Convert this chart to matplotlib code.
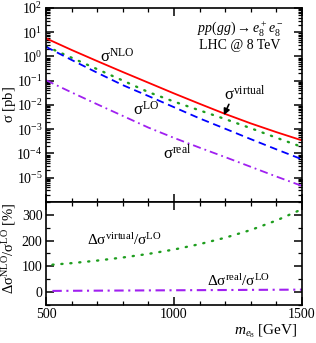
#!/usr/bin/env python3
"""Cross sections for pp(gg) -> e8+ e8- at LHC 8 TeV, with NLO corrections."""

import matplotlib

matplotlib.use("Agg")
import matplotlib.pyplot as plt
from matplotlib.ticker import LogLocator, MultipleLocator, NullFormatter, LogFormatterMathtext

# data (masses in GeV, cross sections in pb)
mass = [500, 600, 700, 800, 900, 1000, 1100, 1200, 1300, 1400, 1500]
sigma_nlo = [5.62, 1.86, 0.646, 0.229, 0.083, 0.030, 0.0112, 0.00427, 0.00174, 0.000759, 0.000347]
sigma_virtual = [2.63, 0.89, 0.30, 0.102, 0.034, 0.0138, 0.0060, 0.00263, 0.00110, 0.000447, 0.000186]
sigma_lo = [2.51, 0.72, 0.214, 0.066, 0.0234, 0.0081, 0.0028, 0.00105, 0.00039, 0.000148, 0.0000575]
sigma_real = [0.105, 0.033, 0.0107, 0.00355, 0.00117, 0.00044, 0.000174, 0.0000708, 0.0000282,
              0.0000112, 0.0000046]

mass_ratio = [525, 600, 700, 800, 900, 1000, 1100, 1200, 1300, 1400, 1500]
ratio_virtual = [106, 112, 122, 134, 148, 165, 186, 211, 241, 278, 322]
ratio_real = [4, 4.5, 5, 5.5, 6, 6.5, 7, 7.5, 8, 8.5, 9]

RED = "#ff0000"
GREEN = "#1f9e1f"
BLUE = "#0000ff"
PURPLE = "#a020f0"

plt.rcParams.update(
    {
        "font.family": "Liberation Serif",
        "font.size": 10,
        "mathtext.fontset": "custom",
        "mathtext.rm": "Liberation Serif",
        "mathtext.it": "Liberation Serif:italic",
        "mathtext.bf": "Liberation Serif:bold",
        "axes.linewidth": 1.2,
    }
)


def style_ticks(ax):
    ax.tick_params(which="both", direction="in", top=True, right=True, labelsize=10, pad=2.5)
    ax.tick_params(which="major", length=5.5, width=1.1)
    ax.tick_params(which="minor", length=3.0, width=0.9)


fig = plt.figure(figsize=(3.16, 3.43), dpi=100)
ax = fig.add_axes([0.1456, 0.4111, 0.8101, 0.5656])
axr = fig.add_axes([0.1456, 0.1114, 0.8101, 0.2997], sharex=ax)

# upper panel: cross sections
ax.plot(mass, sigma_nlo, color=RED, lw=1.3, ls="-")
ax.plot(mass, sigma_virtual, color=GREEN, lw=1.7, ls=(0, (0.5, 3.3)), dash_capstyle="round")
ax.plot(mass, sigma_lo, color=BLUE, lw=1.3, ls=(0, (4.2, 2.6)))
ax.plot(mass, sigma_real, color=PURPLE, lw=1.3, ls=(0, (4.5, 2.2, 1.0, 2.2)))

ax.set_yscale("log")
ax.set_ylim(1e-6, 1e2)
ax.set_xlim(500, 1500)
ax.yaxis.set_major_locator(LogLocator(base=10, numticks=20))
ax.yaxis.set_minor_locator(LogLocator(base=10, subs=range(2, 10), numticks=20))
ax.yaxis.set_major_formatter(LogFormatterMathtext())
ax.yaxis.set_minor_formatter(NullFormatter())
ax.xaxis.set_major_locator(MultipleLocator(500))
ax.xaxis.set_minor_locator(MultipleLocator(100))
style_ticks(ax)
ax.tick_params(labelbottom=False)
ax.set_yticks([1e-5, 1e-4, 1e-3, 1e-2, 1e-1, 1, 10, 100])
ax.set_ylabel(r"$\mathrm{\sigma}$ [pb]", fontsize=10.5)
ax.yaxis.set_label_coords(-0.108, 0.5)

ax.text(0.211, 0.722, r"$\mathrm{\sigma^{NLO}}$", transform=ax.transAxes, fontsize=12, va="baseline")
ax.text(0.340, 0.448, r"$\mathrm{\sigma^{LO}}$", transform=ax.transAxes, fontsize=12, va="baseline")
ax.text(0.457, 0.222, r"$\mathrm{\sigma^{real}}$", transform=ax.transAxes, fontsize=12, va="baseline")
ax.text(0.695, 0.526, r"$\mathrm{\sigma^{virtual}}$", transform=ax.transAxes, fontsize=12, va="baseline")
ax.annotate(
    "",
    xy=(1190, 3.0e-3),
    xytext=(1219, 1.35e-2),
    arrowprops=dict(arrowstyle="-|>", color="black", lw=1.2, mutation_scale=9),
)
ax.text(0.758, 0.876, r"$pp(gg) \rightarrow e_8^+ e_8^-$", transform=ax.transAxes,
        fontsize=10, ha="center", va="baseline")
ax.text(0.758, 0.789, "LHC @ 8 TeV", transform=ax.transAxes, fontsize=10, ha="center", va="baseline")

# lower panel: relative corrections
axr.plot(mass_ratio, ratio_virtual, color=GREEN, lw=1.7, ls=(0, (0.5, 3.3)), dash_capstyle="round")
axr.plot(mass_ratio, ratio_real, color=PURPLE, lw=1.5, ls=(0, (4.5, 2.2, 1.0, 2.2)))
axr.set_ylim(-50, 350)
axr.set_xlim(500, 1500)
axr.yaxis.set_major_locator(MultipleLocator(100))
axr.yaxis.set_minor_locator(MultipleLocator(50))
axr.set_yticks([0, 100, 200, 300])
style_ticks(axr)
axr.set_ylabel(r"$\mathrm{\Delta\sigma^{NLO}/\sigma^{LO}}$ [%]", fontsize=10.5)
axr.yaxis.set_label_coords(-0.108, 0.55)
axr.set_xlabel(r"$m_{e_8}$ [GeV]", fontsize=11)
axr.xaxis.set_label_coords(0.86, -0.17)

axr.text(0.16, 0.582, r"$\mathrm{\Delta\sigma^{virtual}/\sigma^{LO}}$", transform=axr.transAxes,
         fontsize=11, va="baseline")
axr.text(0.629, 0.183, r"$\mathrm{\Delta\sigma^{real}/\sigma^{LO}}$", transform=axr.transAxes,
         fontsize=11, va="baseline")

fig.savefig("out.png", dpi=100)
